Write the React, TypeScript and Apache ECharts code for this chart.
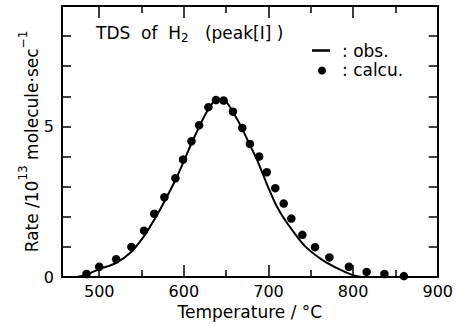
import React, { useEffect, useRef } from "react";
import * as echarts from "echarts";

// observed TDS curve (temperature °C, rate 10^13 molecule/sec)
const obsTemps = [473, 485, 500, 520, 538, 554, 566, 578, 590, 600, 610, 620, 630, 638, 647, 658, 669, 678, 686, 693, 701, 709, 717, 729, 744, 764, 784, 799, 810];
const obsRates = [0, 0.08, 0.26, 0.47, 0.84, 1.4, 1.95, 2.56, 3.22, 3.85, 4.5, 5.1, 5.62, 5.86, 5.86, 5.48, 4.92, 4.38, 3.92, 3.44, 2.89, 2.39, 2.0, 1.52, 1.0, 0.56, 0.25, 0.07, 0];

// calculated points
const calcTemps = [485, 500, 520, 538, 553, 565, 577, 590, 599, 609, 618, 629, 638, 647, 658, 669, 678, 689, 698, 708, 718, 727, 740, 755, 772, 795, 816, 837, 860];
const calcRates = [0.1, 0.34, 0.59, 1.0, 1.54, 2.1, 2.65, 3.28, 3.9, 4.51, 5.04, 5.64, 5.88, 5.86, 5.49, 4.95, 4.42, 4.0, 3.48, 2.95, 2.44, 1.94, 1.4, 0.99, 0.65, 0.34, 0.17, 0.1, 0.03];

const xMajorTicks = [500, 600, 700, 800];
const xMinorTicks = [550, 650, 750, 850];
const xTickLabels = [500, 600, 700, 800, 900];
const yTickLabels = [0, 5];

const X_MIN = 456;
const X_MAX = 900;
const Y_MIN = 0;
const Y_MAX = 9;

const FONT = "DejaVu Sans";
const INK = "#000";

export default function App() {
  const ref = useRef<HTMLDivElement>(null);

  useEffect(() => {
    if (!ref.current) return;
    const chart = echarts.init(ref.current, null, { renderer: "svg" });

    const xBase = (position: "top" | "bottom", showLine: boolean, ticks: number[], len: number) => ({
      type: "value",
      position,
      min: X_MIN,
      max: X_MAX,
      gridIndex: 0,
      axisLine: { show: showLine, onZero: false, lineStyle: { color: INK, width: 2 } },
      axisTick: { show: true, inside: true, length: len, customValues: ticks, lineStyle: { color: INK, width: 1.5 } },
      axisLabel: { show: false },
      splitLine: { show: false },
    });

    const obsData = obsTemps.map((t, i) => [t, obsRates[i]]);
    const calcData = calcTemps.map((t, i) => [t, calcRates[i]]);

    chart.setOption({
      animation: false,
      backgroundColor: "#fff",
      grid: { left: 62, right: 17, top: 6, bottom: 49 },
      xAxis: [
        {
          ...xBase("bottom", true, xMajorTicks, 12),
          axisLabel: {
            show: true,
            customValues: xTickLabels,
            color: INK,
            fontFamily: FONT,
            fontSize: 16,
            margin: 6,
          },
          name: "Temperature / °C",
          nameLocation: "middle",
          nameGap: 26,
          nameMoveOverlap: false,
          nameTextStyle: { color: INK, fontFamily: FONT, fontSize: 17 },
        },
        xBase("bottom", false, xMinorTicks, 7),
        xBase("top", true, xMajorTicks, 12),
        xBase("top", false, xMinorTicks, 7),
      ],
      yAxis: [
        {
          type: "value",
          position: "left",
          min: Y_MIN,
          max: Y_MAX,
          interval: 1,
          axisLine: { show: true, onZero: false, lineStyle: { color: INK, width: 2 } },
          axisTick: { show: true, inside: true, length: 9, lineStyle: { color: INK, width: 1.5 } },
          axisLabel: {
            color: INK,
            fontFamily: FONT,
            fontSize: 16,
            margin: 8,
            formatter: (v: number) => (yTickLabels.includes(v) ? String(v) : ""),
          },
          splitLine: { show: false },
          name: "{n|Rate /10}{s|13}{n| molecule·sec}{s|−1}",
          nameLocation: "middle",
          nameGap: 15,
          nameMoveOverlap: false,
          nameTextStyle: {
            color: INK,
            fontFamily: FONT,
            rich: {
              n: { fontSize: 17, fontFamily: FONT, color: INK, lineHeight: 30 },
              s: { fontSize: 12, fontFamily: FONT, color: INK, verticalAlign: "top" },
            },
          },
        },
        {
          type: "value",
          position: "right",
          min: Y_MIN,
          max: Y_MAX,
          interval: 1,
          axisLine: { show: true, onZero: false, lineStyle: { color: INK, width: 2 } },
          axisTick: { show: true, inside: true, length: 9, lineStyle: { color: INK, width: 1.5 } },
          axisLabel: { show: false },
          splitLine: { show: false },
        },
      ],
      series: [
        {
          name: "obs.",
          type: "line",
          data: obsData,
          smooth: 0.3,
          showSymbol: false,
          lineStyle: { color: INK, width: 2 },
          itemStyle: { color: INK },
          xAxisIndex: 0,
          yAxisIndex: 0,
          z: 2,
        },
        {
          name: "calcu.",
          type: "scatter",
          data: calcData,
          symbol: "circle",
          symbolSize: 8.5,
          itemStyle: { color: INK, opacity: 1 },
          xAxisIndex: 0,
          yAxisIndex: 0,
          z: 3,
        },
      ],
      graphic: [
        {
          type: "text",
          left: 96,
          top: 24,
          style: {
            text: "{m|TDS  of  H}{b|2}{m|   (peak[I] )}",
            rich: {
              m: { fontSize: 17, fontFamily: FONT, fill: INK, lineHeight: 22 },
              b: { fontSize: 12, fontFamily: FONT, fill: INK, verticalAlign: "bottom" },
            },
          },
        },
        {
          type: "line",
          shape: { x1: 312, y1: 50.5, x2: 330, y2: 50.5 },
          style: { stroke: INK, lineWidth: 2.5 },
        },
        {
          type: "text",
          x: 342,
          y: 51,
          style: { text: ": obs.", fontSize: 17, fontFamily: FONT, fill: INK, verticalAlign: "middle" },
        },
        {
          type: "circle",
          shape: { cx: 322, cy: 70.5, r: 4 },
          style: { fill: INK },
        },
        {
          type: "text",
          x: 342,
          y: 70,
          style: { text: ": calcu.", fontSize: 17, fontFamily: FONT, fill: INK, verticalAlign: "middle" },
        },
      ],
    });

    return () => chart.dispose();
  }, []);

  return <div ref={ref} style={{ position: "fixed", left: 0, top: 0, width: 456, height: 326 }} />;
}
